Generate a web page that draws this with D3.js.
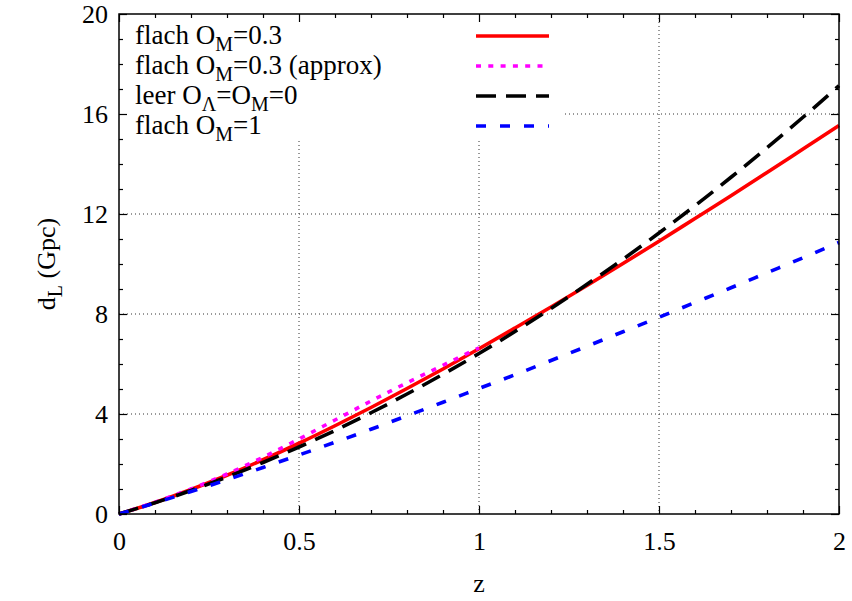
<!DOCTYPE html>
<html>
<head>
<meta charset="utf-8">
<script src="https://cdnjs.cloudflare.com/ajax/libs/d3/7.8.5/d3.min.js"></script>
<style>
  body { margin: 0; background: #fff; }
  svg { display: block; }
  text { font-family: 'Liberation Serif', 'Times New Roman', serif; fill: #000; }
</style>
</head>
<body>
<svg class="dlChart" width="852" height="601"></svg>
<script>
// redshift grid used for the curves
var zValues = [0, 0.1, 0.2, 0.3, 0.4, 0.5, 0.6, 0.7, 0.8, 0.9, 1.0,
  1.1, 1.2, 1.3, 1.4, 1.5, 1.6, 1.7, 1.8, 1.9, 2.0];

// d_L in Gpc
var flat03 = [0, 0.46, 0.98, 1.55, 2.17, 2.83, 3.53, 4.26, 5.02, 5.80, 6.61,
  7.44, 8.28, 9.14, 10.02, 10.91, 11.82, 12.73, 13.66, 14.60, 15.54];
var empty = [0, 0.45, 0.94, 1.48, 2.06, 2.68, 3.34, 4.05, 4.80, 5.59, 6.42,
  7.30, 8.22, 9.19, 10.19, 11.24, 12.33, 13.47, 14.65, 15.87, 17.13];
var flat1 = [0, 0.44, 0.90, 1.37, 1.86, 2.36, 2.87, 3.39, 3.93, 4.47, 5.02,
  5.57, 6.14, 6.71, 7.29, 7.87, 8.46, 9.05, 9.65, 10.25, 10.86];

var zApprox = [0, 0.1, 0.2, 0.3, 0.4, 0.5, 0.6, 0.7, 0.8, 0.9, 1.0];
var flat03Approx = [0, 0.47, 1.00, 1.60, 2.27, 3.00, 3.76, 4.52, 5.25, 5.95, 6.65];

var xTicks = [0, 0.5, 1, 1.5, 2];
var yTicks = [0, 4, 8, 12, 16, 20];

// legend labels as [text, subscript] pieces
var legendLabels = [
  [['flach O', ''], ['', 'M'], ['=0.3', '']],
  [['flach O', ''], ['', 'M'], ['=0.3 (approx)', '']],
  [['leer O', ''], ['', '\u039B'], ['=O', ''], ['', 'M'], ['=0', '']],
  [['flach O', ''], ['', 'M'], ['=1', '']]
];

var series = [
  { z: zValues, d: flat03, color: '#ff0000', dash: null },
  { z: zApprox, d: flat03Approx, color: '#ff00ff', dash: '5,7.3' },
  { z: zValues, d: empty, color: '#000000', dash: '20,10' },
  { z: zValues, d: flat1, color: '#0000ff', dash: '10,14' }
];

var drawChart = function() {
  var x0 = 119, x1 = 839, y0 = 14, y1 = 514;
  var fontSize = 26;
  var keyFont = 27;

  var x = d3.scaleLinear().domain([0, 2]).range([x0, x1]);
  var y = d3.scaleLinear().domain([0, 20]).range([y1, y0]);

  var svg = d3.select('svg.dlChart');

  // legend box bounds
  var keyX0 = 128, keyX1 = 565, keyY1 = 141;

  // grid (dotted), skipping the part hidden by the opaque key
  var grid = svg.append('g').attr('class', 'grid')
    .attr('stroke', '#333')
    .attr('stroke-width', 1)
    .attr('stroke-dasharray', '1,3');

  grid.selectAll('line.gx')
    .data(xTicks.slice(1, -1))
    .enter()
    .append('line')
    .attr('x1', function(d) { return x(d); })
    .attr('x2', function(d) { return x(d); })
    .attr('y1', function(d) { return x(d) < keyX1 ? keyY1 : y0; })
    .attr('y2', y1);

  grid.selectAll('line.gy')
    .data(yTicks.slice(1, -1))
    .enter()
    .append('line')
    .attr('y1', function(d) { return y(d); })
    .attr('y2', function(d) { return y(d); })
    .attr('x1', function(d) { return y(d) < keyY1 ? keyX1 : x0; })
    .attr('x2', x1);

  // curves
  var line = d3.line()
    .x(function(p) { return x(p[0]); })
    .y(function(p) { return y(p[1]); })
    .curve(d3.curveMonotoneX);

  svg.append('g')
    .attr('class', 'curves')
    .selectAll('path')
    .data(series)
    .enter()
    .append('path')
    .attr('d', function(s) {
      return line(s.z.map(function(z, i) { return [z, s.d[i]]; }));
    })
    .attr('fill', 'none')
    .attr('stroke', function(s) { return s.color; })
    .attr('stroke-width', 3.6)
    .attr('stroke-dasharray', function(s) { return s.dash; });

  // key
  var key = svg.append('g').attr('class', 'legend');
  var rowY = function(i) { return 36 + 30 * i; };

  var keyText = key.selectAll('text')
    .data(legendLabels)
    .enter()
    .append('text')
    .attr('x', 135)
    .attr('y', function(d, i) { return rowY(i) + 7.5; })
    .attr('font-size', keyFont);

  keyText.each(function(parts) {
    var t = d3.select(this);
    var shifted = false;
    parts.forEach(function(p) {
      if (p[1]) {
        t.append('tspan').attr('font-size', 20).attr('dy', shifted ? 0 : 7).text(p[1]);
        shifted = true;
      } else {
        t.append('tspan').attr('dy', shifted ? -7 : 0).text(p[0]);
        shifted = false;
      }
    });
  });

  key.selectAll('line')
    .data(series)
    .enter()
    .append('line')
    .attr('x1', 476)
    .attr('x2', 549)
    .attr('y1', function(d, i) { return rowY(i); })
    .attr('y2', function(d, i) { return rowY(i); })
    .attr('stroke', function(s) { return s.color; })
    .attr('stroke-width', 3.6)
    .attr('stroke-dasharray', function(s) { return s.dash; });

  // axes: ticks point inward and are mirrored on top/right
  var minorX = d3.range(1, 20).filter(function(v) { return v % 5 !== 0; })
    .map(function(v) { return v / 10; });
  var minorY = d3.range(1, 20).filter(function(v) { return v % 4 !== 0; });

  var axes = svg.append('g').attr('class', 'axes');

  axes.append('g')
    .attr('transform', 'translate(0,' + y1 + ')')
    .call(d3.axisBottom(x).tickValues(xTicks).tickSize(-8).tickPadding(17.5)
      .tickFormat(function(d) { return d3.format('~g')(d); }));
  axes.append('g')
    .attr('transform', 'translate(0,' + y1 + ')')
    .call(d3.axisBottom(x).tickValues(minorX).tickSize(-4).tickFormat(''));
  axes.append('g')
    .attr('transform', 'translate(0,' + y0 + ')')
    .call(d3.axisTop(x).tickValues(xTicks).tickSize(-8).tickFormat(''));
  axes.append('g')
    .attr('transform', 'translate(0,' + y0 + ')')
    .call(d3.axisTop(x).tickValues(minorX).tickSize(-4).tickFormat(''));

  axes.append('g')
    .attr('transform', 'translate(' + x0 + ',0)')
    .call(d3.axisLeft(y).tickValues(yTicks).tickSize(-8).tickPadding(11));
  axes.append('g')
    .attr('transform', 'translate(' + x0 + ',0)')
    .call(d3.axisLeft(y).tickValues(minorY).tickSize(-4).tickFormat(''));
  axes.append('g')
    .attr('transform', 'translate(' + x1 + ',0)')
    .call(d3.axisRight(y).tickValues(yTicks).tickSize(-8).tickFormat(''));
  axes.append('g')
    .attr('transform', 'translate(' + x1 + ',0)')
    .call(d3.axisRight(y).tickValues(minorY).tickSize(-4).tickFormat(''));

  axes.selectAll('.domain').remove();
  axes.selectAll('.tick line').attr('stroke', '#000').attr('stroke-width', 1.2);
  axes.selectAll('.tick text')
    .attr('font-family', "'Liberation Serif', serif")
    .attr('font-size', fontSize)
    .attr('fill', '#000');

  // border
  svg.append('rect')
    .attr('x', x0)
    .attr('y', y0)
    .attr('width', x1 - x0)
    .attr('height', y1 - y0)
    .attr('fill', 'none')
    .attr('stroke', '#000')
    .attr('stroke-width', 1.5);

  // axis titles
  svg.append('text')
    .attr('x', (x0 + x1) / 2)
    .attr('y', 592)
    .attr('text-anchor', 'middle')
    .attr('font-size', fontSize)
    .text('z');

  var yTitle = svg.append('text')
    .attr('transform', 'translate(55,' + (y0 + y1) / 2 + ') rotate(-90)')
    .attr('text-anchor', 'middle')
    .attr('font-size', fontSize);
  yTitle.append('tspan').text('d');
  yTitle.append('tspan').attr('font-size', 20).attr('dy', 7).text('L');
  yTitle.append('tspan').attr('dy', -7).text(' (Gpc)');
};

drawChart();
</script>
</body>
</html>
